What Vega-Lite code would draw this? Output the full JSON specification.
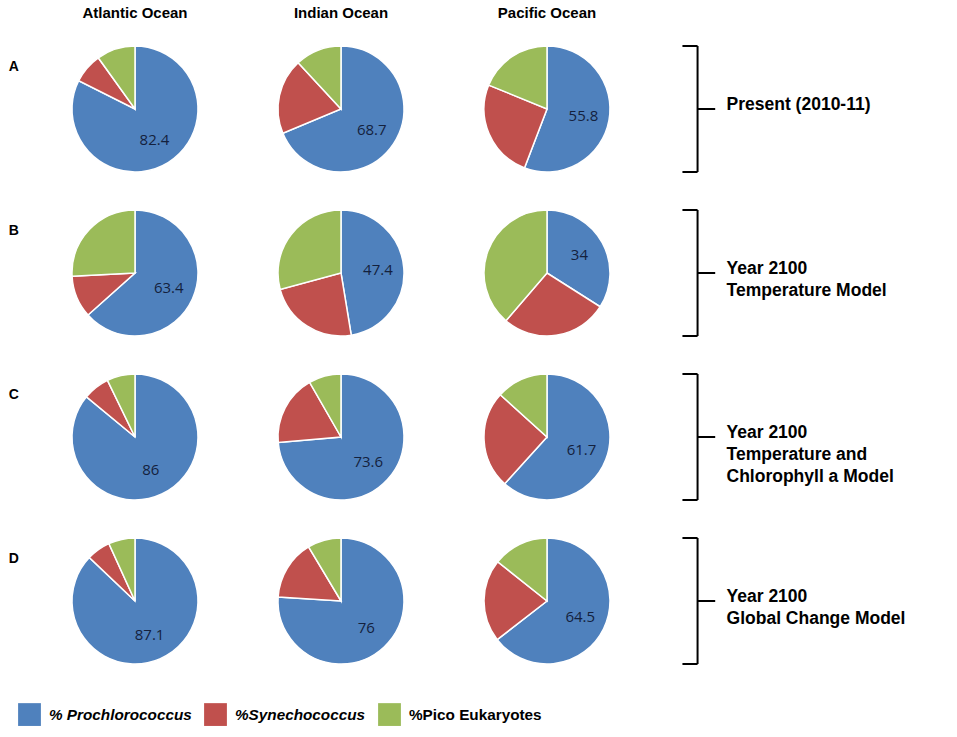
{
  "$schema": "https://vega.github.io/schema/vega-lite/v6.json",
  "description": "Picophytoplankton composition by ocean, present and year 2100 models",
  "background": "white",
  "padding": {"left": 8, "top": 6, "right": 5, "bottom": 5},
  "bounds": "flush",
  "data": {
    "values": [
      {"scenario": "A", "ocean": "Atlantic Ocean", "taxon": "% Prochlorococcus", "value": 82.4},
      {"scenario": "A", "ocean": "Atlantic Ocean", "taxon": "%Synechococcus", "value": 7.7},
      {"scenario": "A", "ocean": "Atlantic Ocean", "taxon": "%Pico Eukaryotes", "value": 9.9},
      {"scenario": "A", "ocean": "Indian Ocean", "taxon": "% Prochlorococcus", "value": 68.7},
      {"scenario": "A", "ocean": "Indian Ocean", "taxon": "%Synechococcus", "value": 19.4},
      {"scenario": "A", "ocean": "Indian Ocean", "taxon": "%Pico Eukaryotes", "value": 11.9},
      {"scenario": "A", "ocean": "Pacific Ocean", "taxon": "% Prochlorococcus", "value": 55.8},
      {"scenario": "A", "ocean": "Pacific Ocean", "taxon": "%Synechococcus", "value": 25.4},
      {"scenario": "A", "ocean": "Pacific Ocean", "taxon": "%Pico Eukaryotes", "value": 18.8},
      {"scenario": "B", "ocean": "Atlantic Ocean", "taxon": "% Prochlorococcus", "value": 63.4},
      {"scenario": "B", "ocean": "Atlantic Ocean", "taxon": "%Synechococcus", "value": 10.8},
      {"scenario": "B", "ocean": "Atlantic Ocean", "taxon": "%Pico Eukaryotes", "value": 25.8},
      {"scenario": "B", "ocean": "Indian Ocean", "taxon": "% Prochlorococcus", "value": 47.4},
      {"scenario": "B", "ocean": "Indian Ocean", "taxon": "%Synechococcus", "value": 23.4},
      {"scenario": "B", "ocean": "Indian Ocean", "taxon": "%Pico Eukaryotes", "value": 29.2},
      {"scenario": "B", "ocean": "Pacific Ocean", "taxon": "% Prochlorococcus", "value": 34},
      {"scenario": "B", "ocean": "Pacific Ocean", "taxon": "%Synechococcus", "value": 27.3},
      {"scenario": "B", "ocean": "Pacific Ocean", "taxon": "%Pico Eukaryotes", "value": 38.7},
      {"scenario": "C", "ocean": "Atlantic Ocean", "taxon": "% Prochlorococcus", "value": 86},
      {"scenario": "C", "ocean": "Atlantic Ocean", "taxon": "%Synechococcus", "value": 6.8},
      {"scenario": "C", "ocean": "Atlantic Ocean", "taxon": "%Pico Eukaryotes", "value": 7.2},
      {"scenario": "C", "ocean": "Indian Ocean", "taxon": "% Prochlorococcus", "value": 73.6},
      {"scenario": "C", "ocean": "Indian Ocean", "taxon": "%Synechococcus", "value": 18.1},
      {"scenario": "C", "ocean": "Indian Ocean", "taxon": "%Pico Eukaryotes", "value": 8.3},
      {"scenario": "C", "ocean": "Pacific Ocean", "taxon": "% Prochlorococcus", "value": 61.7},
      {"scenario": "C", "ocean": "Pacific Ocean", "taxon": "%Synechococcus", "value": 25.0},
      {"scenario": "C", "ocean": "Pacific Ocean", "taxon": "%Pico Eukaryotes", "value": 13.3},
      {"scenario": "D", "ocean": "Atlantic Ocean", "taxon": "% Prochlorococcus", "value": 87.1},
      {"scenario": "D", "ocean": "Atlantic Ocean", "taxon": "%Synechococcus", "value": 6.1},
      {"scenario": "D", "ocean": "Atlantic Ocean", "taxon": "%Pico Eukaryotes", "value": 6.8},
      {"scenario": "D", "ocean": "Indian Ocean", "taxon": "% Prochlorococcus", "value": 76},
      {"scenario": "D", "ocean": "Indian Ocean", "taxon": "%Synechococcus", "value": 15.4},
      {"scenario": "D", "ocean": "Indian Ocean", "taxon": "%Pico Eukaryotes", "value": 8.6},
      {"scenario": "D", "ocean": "Pacific Ocean", "taxon": "% Prochlorococcus", "value": 64.5},
      {"scenario": "D", "ocean": "Pacific Ocean", "taxon": "%Synechococcus", "value": 21.2},
      {"scenario": "D", "ocean": "Pacific Ocean", "taxon": "%Pico Eukaryotes", "value": 14.3},
      {"scenario": "A", "ocean": " ", "note": "Present (2010-11)"},
      {"scenario": "B", "ocean": " ", "note": "Year 2100\nTemperature Model"},
      {"scenario": "C", "ocean": " ", "note": "Year 2100\nTemperature and\nChlorophyll a Model"},
      {"scenario": "D", "ocean": " ", "note": "Year 2100\nGlobal Change Model"}
    ]
  },
  "facet": {
    "row": {
      "field": "scenario",
      "type": "nominal",
      "title": null,
      "header": {
        "labelAngle": 0,
        "labelOrient": "left",
        "labelAnchor": "end",
        "labelBaseline": "top",
        "labelAlign": "right",
        "labelExpr": "['', datum.value]",
        "labelLineHeight": 14,
        "labelPadding": 43,
        "labelFont": "Liberation Sans",
        "labelFontSize": 14,
        "labelFontWeight": "bold",
        "labelColor": "black"
      }
    },
    "column": {
      "field": "ocean",
      "type": "nominal",
      "title": null,
      "sort": ["Atlantic Ocean", "Indian Ocean", "Pacific Ocean", " "],
      "header": {
        "labelFont": "Liberation Sans",
        "labelFontSize": 15,
        "labelFontWeight": "bold",
        "labelColor": "black",
        "labelPadding": 25
      }
    }
  },
  "spacing": {"row": 38, "column": 80},
  "spec": {
    "width": 126,
    "height": 126,
    "layer": [
      {
        "transform": [
          {"filter": "isValid(datum.taxon)"},
          {"calculate": "indexof(['% Prochlorococcus', '%Synechococcus', '%Pico Eukaryotes'], datum.taxon)", "as": "taxonOrder"}
        ],
        "mark": {"type": "arc", "stroke": "white", "strokeWidth": 1.5},
        "encoding": {
          "theta": {"field": "value", "type": "quantitative", "stack": true, "scale": {"domain": [0, 100]}},
          "order": {"field": "taxonOrder", "type": "quantitative"},
          "color": {
            "field": "taxon",
            "type": "nominal",
            "scale": {
              "domain": ["% Prochlorococcus", "%Synechococcus", "%Pico Eukaryotes"],
              "range": ["#4F81BD", "#C0504D", "#9BBB59"]
            },
            "legend": {
              "title": null,
              "orient": "none",
              "legendX": -54,
              "legendY": 657,
              "direction": "horizontal",
              "symbolType": "square",
              "symbolSize": 520,
              "symbolStrokeWidth": 0,
              "labelFont": "Liberation Sans",
              "labelFontSize": 15.3,
              "labelFontWeight": "bold",
              "labelFontStyle": {"expr": "datum.value === '%Pico Eukaryotes' ? 'normal' : 'italic'"},
              "labelColor": "black",
              "labelOffset": 8,
              "columnPadding": 12
            }
          }
        }
      },
      {
        "transform": [{"filter": "datum.taxon === '% Prochlorococcus'"}],
        "mark": {"type": "text", "radius": 37, "font": "Open Sans", "fontSize": 15, "color": "#14213d"},
        "encoding": {
          "theta": {"field": "value", "type": "quantitative", "stack": true, "scale": {"domain": [0, 100]}},
          "text": {"field": "value", "type": "quantitative"}
        }
      },
      {
        "transform": [{"filter": "isValid(datum.note)"}],
        "mark": {"type": "rule", "color": "black", "strokeWidth": 2},
        "encoding": {
          "x": {"datum": 0.06, "type": "quantitative", "scale": {"domain": [0, 1]}, "axis": null},
          "y": {"datum": 0, "type": "quantitative", "scale": {"domain": [0, 1]}, "axis": null},
          "y2": {"datum": 1}
        }
      },
      {
        "transform": [{"filter": "isValid(datum.note)"}],
        "mark": {"type": "rule", "color": "black", "strokeWidth": 2},
        "encoding": {
          "x": {"datum": -0.06, "type": "quantitative"},
          "x2": {"datum": 0.06},
          "y": {"datum": 1, "type": "quantitative"}
        }
      },
      {
        "transform": [{"filter": "isValid(datum.note)"}],
        "mark": {"type": "rule", "color": "black", "strokeWidth": 2},
        "encoding": {
          "x": {"datum": -0.06, "type": "quantitative"},
          "x2": {"datum": 0.06},
          "y": {"datum": 0, "type": "quantitative"}
        }
      },
      {
        "transform": [{"filter": "isValid(datum.note)"}],
        "mark": {"type": "rule", "color": "black", "strokeWidth": 2},
        "encoding": {
          "x": {"datum": 0.06, "type": "quantitative"},
          "x2": {"datum": 0.2},
          "y": {"datum": 0.5, "type": "quantitative"}
        }
      },
      {
        "transform": [{"filter": "isValid(datum.note)"}],
        "mark": {
          "type": "text",
          "align": "left",
          "baseline": "middle",
          "lineBreak": "\n",
          "lineHeight": 22,
          "font": "Liberation Sans",
          "fontSize": 17.5,
          "fontWeight": "bold",
          "color": "black"
        },
        "encoding": {
          "x": {"datum": 0.29, "type": "quantitative"},
          "y": {"datum": 0.53, "type": "quantitative"},
          "text": {"field": "note", "type": "nominal"}
        }
      }
    ]
  },
  "config": {
    "view": {"stroke": null}
  }
}
